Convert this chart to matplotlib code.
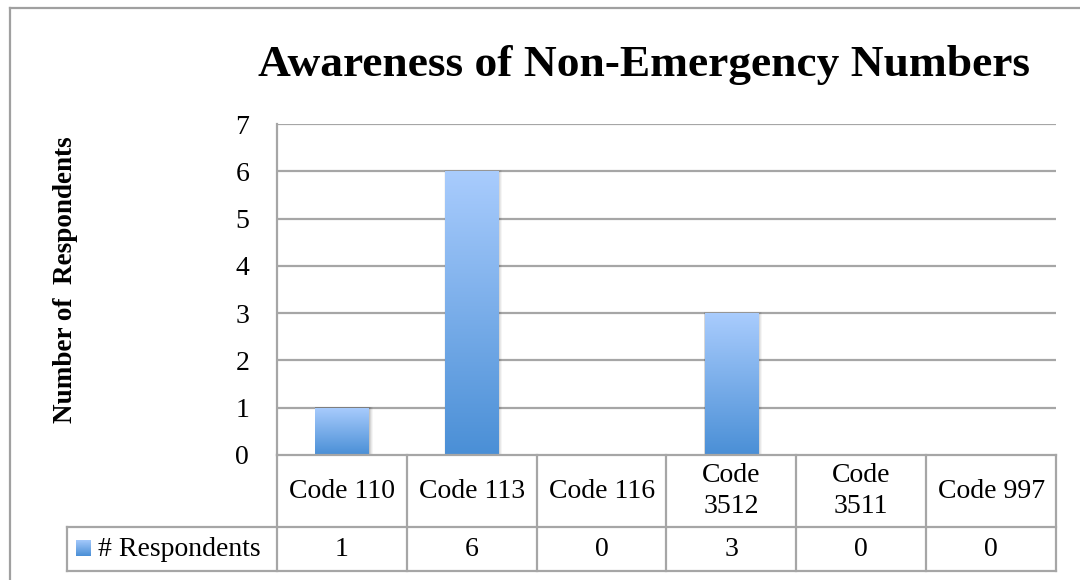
import matplotlib
matplotlib.use("Agg")
import matplotlib.pyplot as plt
import numpy as np
from matplotlib.colors import LinearSegmentedColormap
from matplotlib.lines import Line2D
from matplotlib.patches import Rectangle
from matplotlib.transforms import blended_transform_factory

# ---- data ----
categories = ["Code 110", "Code 113", "Code 116", "Code\n3512", "Code\n3511", "Code 997"]
values = [1, 6, 0, 3, 0, 0]
series_name = "# Respondents"
title = "Awareness of Non-Emergency Numbers"
ylabel = "Number of  Respondents"
yticks = [0, 1, 2, 3, 4, 5, 6, 7]

FONT = "Liberation Serif"
plt.rcParams['font.family'] = [FONT, 'DejaVu Serif']
FS = 20

W, H = 1080, 580
fig = plt.figure(figsize=(W / 100, H / 100), dpi=100)
fig.patch.set_facecolor("white")


def fx(px):
    return px / W


def fy(py):
    return 1 - py / H


L, R, T, B = 277, 1056, 124, 455
ax = fig.add_axes([fx(L), fy(B), (R - L) / W, (B - T) / H])
n = len(categories)
ax.set_xlim(-0.5, n - 0.5)
ax.set_ylim(0, 7)
ax.set_facecolor("none")

grid_c = "#a6a6a6"
for s in ["top", "right", "bottom"]:
    ax.spines[s].set_visible(False)
ax.spines["left"].set_color(grid_c)
ax.spines["left"].set_linewidth(1.6)
ax.set_yticks(yticks)
ax.set_yticklabels([str(t) for t in yticks], fontsize=FS)
ax.tick_params(axis="y", length=0, pad=20)
ax.set_xticks([])
for t in yticks[1:]:
    ax.axhline(t, color=grid_c, lw=1.6, zorder=1)

# bars with gradient
cmap = LinearSegmentedColormap.from_list("bar", ["#4a8fd6", "#a9ccfd"])
bw = 0.41
x = np.arange(n)
bars = ax.bar(x, values, width=bw, color="none", zorder=3)
grad = np.linspace(0, 1, 256).reshape(-1, 1)
px_per_unit_x = (R - L) / n
px_per_unit_y = (B - T) / 7
for xi, v, b in zip(x, values, bars):
    if v <= 0:
        continue
    # soft shadow
    for k, a in [(4, 0.04), (3, 0.05), (2, 0.07), (1, 0.09)]:
        dx = k / px_per_unit_x
        dy = k / px_per_unit_y
        ax.add_patch(Rectangle((xi - bw / 2 - dx * 0.2, 0), bw + dx * 1.2, v + dy * 0.3,
                               facecolor="black", alpha=a, edgecolor="none", zorder=2))
    im = ax.imshow(grad, extent=[xi - bw / 2, xi + bw / 2, 0, v], origin="lower",
                   cmap=cmap, aspect="auto", zorder=3, interpolation="bicubic")
    im.set_clip_path(b)
ax.set_xlim(-0.5, n - 0.5)
ax.set_ylim(0, 7)

# title and y label
fig.text(fx(644), fy(65), title, fontsize=32.7, fontweight="bold", ha="center", va="center")
fig.text(fx(66), fy(280), ylabel, fontsize=19.5, fontweight="bold", rotation=90,
         ha="center", va="center")

# ---- data table ----
tr = blended_transform_factory(ax.transData, fig.transFigure)
y_top, y_mid, y_bot = fy(455), fy(527), fy(571)
x_left = -0.5 - (L - 67) / px_per_unit_x
tc = "#a6a6a6"
lw = 1.6


def hline(x0, x1, y):
    fig.add_artist(Line2D([x0, x1], [y, y], transform=tr, color=tc, lw=lw, clip_on=False))


def vline(xv, y0, y1):
    fig.add_artist(Line2D([xv, xv], [y0, y1], transform=tr, color=tc, lw=lw, clip_on=False))


hline(-0.5, n - 0.5, y_top)
hline(x_left, n - 0.5, y_mid)
hline(x_left, n - 0.5, y_bot)
for i in range(n + 1):
    vline(-0.5 + i, y_top, y_bot)
vline(x_left, y_mid, y_bot)

for xi, cat, v in zip(x, categories, values):
    fig.text(xi, (y_top + y_mid) / 2, cat, transform=tr, fontsize=FS, ha="center",
             va="center", linespacing=1.35)
    fig.text(xi, (y_mid + y_bot) / 2, str(v), transform=tr, fontsize=FS, ha="center",
             va="center")

# legend key in table
kax = fig.add_axes([fx(76), fy(556), 15 / W, 16 / H])
kax.imshow(grad, extent=[0, 1, 0, 1], origin="lower", cmap=cmap, aspect="auto")
kax.axis("off")
fig.text(fx(98), (y_mid + y_bot) / 2, series_name, fontsize=FS, ha="left", va="center")

# outer chart frame
fig.add_artist(Line2D([fx(10), fx(10)], [fy(8), 0], transform=fig.transFigure,
                      color="#a0a0a0", lw=1.6))
fig.add_artist(Line2D([fx(10), 1], [fy(8), fy(8)], transform=fig.transFigure,
                      color="#a0a0a0", lw=1.6))

fig.savefig("out.png", dpi=100, facecolor="white")
